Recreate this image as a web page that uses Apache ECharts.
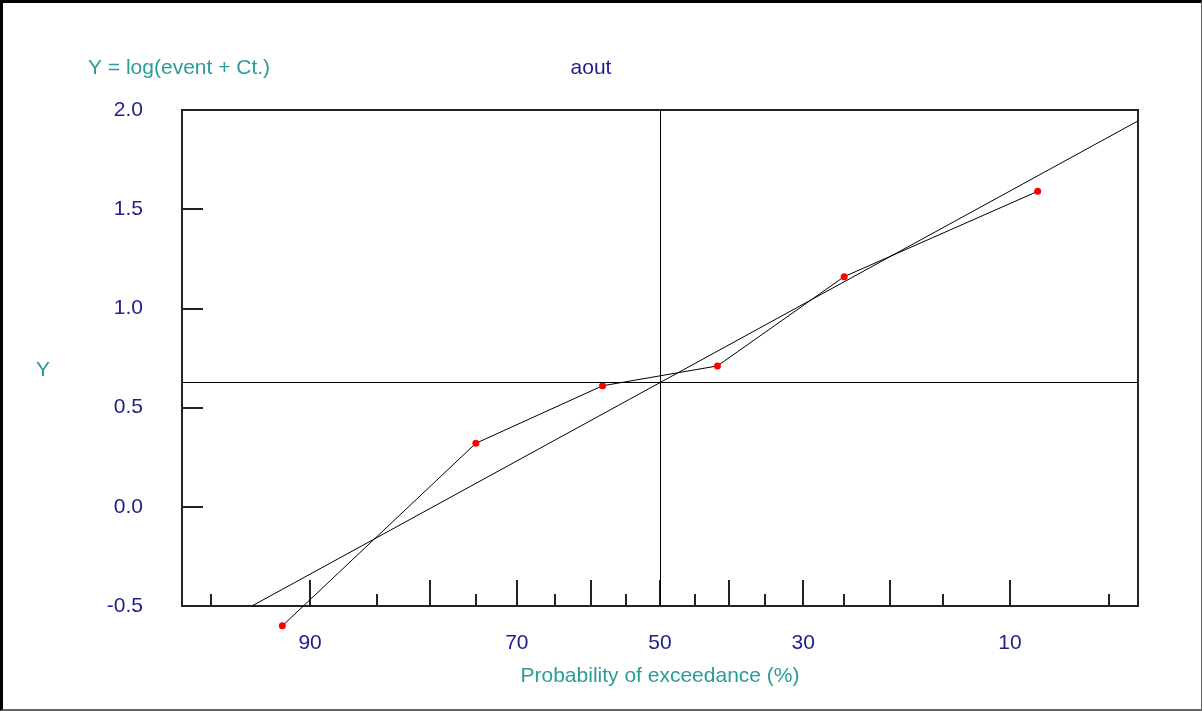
<!DOCTYPE html>
<html>
<head>
<meta charset="utf-8">
<script src="https://cdn.jsdelivr.net/npm/echarts@6/dist/echarts.min.js"></script>
<style>
    html, body { margin: 0; padding: 0; background: #fff; }
    #wrap { position: relative; width: 1202px; height: 711px; }
    #chart { width: 1202px; height: 711px; }
    #frame {
        position: absolute; left: 0; top: 0; width: 1202px; height: 711px; box-sizing: border-box;
        border-top: 3px solid #000; border-left: 3px solid #000;
        border-right: 1px solid #666; border-bottom: 2px solid #666;
        pointer-events: none;
    }
</style>
</head>
<body>
<div id="wrap">
    <div id="chart"></div>
    <div id="frame"></div>
</div>
<script>
// observations (probability of exceedance %, Y)
var obsProb = [91.67, 75, 58.33, 41.67, 25, 8.33];
var obsY = [-0.60, 0.32, 0.61, 0.71, 1.16, 1.59];
// fitted line
var fitProb = [93.25, 4];
var fitY = [-0.50, 1.945];
// mean value of Y (horizontal line) and median (vertical line)
var meanY = 0.627;
var medianProb = 50;
// axis range and ticks
var probMin = 96, probMax = 4;
var longTicks = [90, 80, 70, 60, 50, 40, 30, 20, 10];
var shortTicks = [95, 85, 75, 65, 55, 45, 35, 25, 15, 5];
var xLabels = [90, 70, 50, 30, 10];
var yTicks = [-0.5, 0.0, 0.5, 1.0, 1.5, 2.0];

var navy = "#1e1e8c";
var teal = "#2a9c98";
var fontFam = "Liberation Sans, Arial, sans-serif";

// inverse normal cdf (Acklam)
function qnorm(p) {
    var a = [-3.969683028665376e+01, 2.209460984245205e+02, -2.759285104469687e+02, 1.383577518672690e+02, -3.066479806614716e+01, 2.506628277459239e+00];
    var b = [-5.447609879822406e+01, 1.615858368580409e+02, -1.556989798598866e+02, 6.680131188771972e+01, -1.328068155288572e+01];
    var c = [-7.784894002430293e-03, -3.223964580411365e-01, -2.400758277161838e+00, -2.549732539343734e+00, 4.374664141464968e+00, 2.938163982698783e+00];
    var d = [7.784695709041462e-03, 3.224671290700398e-01, 2.445134137142996e+00, 3.754408661907416e+00];
    var plow = 0.02425, q, r;
    if (p < plow) {
        q = Math.sqrt(-2 * Math.log(p));
        return (((((c[0] * q + c[1]) * q + c[2]) * q + c[3]) * q + c[4]) * q + c[5]) /
            ((((d[0] * q + d[1]) * q + d[2]) * q + d[3]) * q + 1);
    } else if (p <= 1 - plow) {
        q = p - 0.5;
        r = q * q;
        return (((((a[0] * r + a[1]) * r + a[2]) * r + a[3]) * r + a[4]) * r + a[5]) * q /
            (((((b[0] * r + b[1]) * r + b[2]) * r + b[3]) * r + b[4]) * r + 1);
    } else {
        q = Math.sqrt(-2 * Math.log(1 - p));
        return -(((((c[0] * q + c[1]) * q + c[2]) * q + c[3]) * q + c[4]) * q + c[5]) /
            ((((d[0] * q + d[1]) * q + d[2]) * q + d[3]) * q + 1);
    }
}

// probability of exceedance -> normal variate (axis position)
function toX(prob) {
    return qnorm(1 - prob / 100);
}

var obsData = obsProb.map(function (p, i) {
    return [toX(p), obsY[i]];
});
var fitData = fitProb.map(function (p, i) {
    return [toX(p), fitY[i]];
});

var xMin = toX(probMin), xMax = toX(probMax);

function labelOf(v) {
    for (var i = 0; i < xLabels.length; i++) {
        if (Math.abs(toX(xLabels[i]) - v) < 1e-6) return String(xLabels[i]);
    }
    return "";
}

var chart = echarts.init(document.getElementById("chart"));
var option = {
    animation: false,
    grid: {
        left: 182,
        right: 64,
        top: 110,
        bottom: 105,
        show: true,
        borderColor: "#222",
        borderWidth: 2
    },
    graphic: [
        {
            type: "text",
            style: {x: 88, y: 68, text: "Y = log(event + Ct.)", fill: teal, font: "21px " + fontFam, verticalAlign: "middle"}
        },
        {
            type: "text",
            style: {x: 591, y: 68, text: "aout", fill: navy, font: "21px " + fontFam, verticalAlign: "middle", align: "center"}
        },
        {
            type: "text",
            style: {x: 43, y: 370, text: "Y", fill: teal, font: "21px " + fontFam, verticalAlign: "middle", align: "center"}
        }
    ],
    xAxis: [
        {
            type: "value",
            min: xMin,
            max: xMax,
            position: "bottom",
            name: "Probability of exceedance (%)",
            nameLocation: "middle",
            nameGap: 60,
            nameTextStyle: {color: teal, fontSize: 21, fontFamily: fontFam},
            axisLine: {show: true, onZero: false, lineStyle: {color: "#222", width: 2}},
            axisTick: {
                show: true,
                inside: true,
                length: 26,
                customValues: longTicks.map(toX),
                lineStyle: {color: "#222", width: 2}
            },
            axisLabel: {
                show: true,
                margin: 27,
                color: navy,
                fontSize: 21,
                fontFamily: fontFam,
                customValues: xLabels.map(toX),
                formatter: labelOf
            },
            splitLine: {show: false}
        },
        {
            type: "value",
            min: xMin,
            max: xMax,
            position: "bottom",
            offset: 0,
            axisLine: {show: false, onZero: false},
            axisTick: {
                show: true,
                inside: true,
                length: 12,
                customValues: shortTicks.map(toX),
                lineStyle: {color: "#222", width: 2}
            },
            axisLabel: {show: false},
            splitLine: {show: false}
        }
    ],
    yAxis: {
        type: "value",
        min: -0.5,
        max: 2.0,
        interval: 0.5,
        axisLine: {show: true, onZero: false, lineStyle: {color: "#222", width: 2}},
        axisTick: {show: true, inside: true, length: 21, lineStyle: {color: "#222", width: 2}},
        axisLabel: {
            margin: 39,
            color: navy,
            fontSize: 21,
            fontFamily: fontFam,
            formatter: function (v) {
                return v.toFixed(1);
            }
        },
        splitLine: {show: false}
    },
    series: [
        {
            name: "fit",
            type: "line",
            data: fitData,
            showSymbol: false,
            symbol: "none",
            lineStyle: {color: "#000", width: 1},
            markLine: {
                silent: true,
                symbol: "none",
                label: {show: false},
                lineStyle: {color: "#000", width: 1, type: "solid"},
                data: [
                    {yAxis: meanY},
                    {xAxis: toX(medianProb)}
                ]
            },
            z: 2
        },
        {
            name: "obs",
            type: "line",
            data: obsData,
            clip: false,
            symbol: "circle",
            symbolSize: 7,
            itemStyle: {color: "#ff0000", borderWidth: 0},
            lineStyle: {color: "#000", width: 1},
            z: 3
        }
    ]
};
chart.setOption(option);
</script>
</body>
</html>
